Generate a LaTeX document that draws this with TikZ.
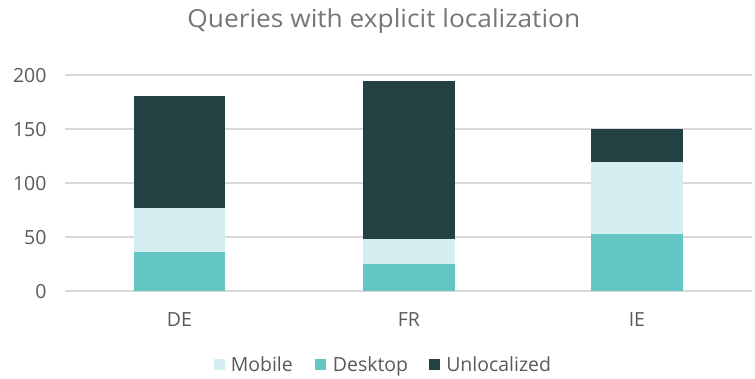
\documentclass[tikz,border=0pt]{standalone}
\usepackage{fontspec}
\setmainfont{Open Sans}
\definecolor{unloc}{HTML}{234142}
\definecolor{desk}{HTML}{63C6C2}
\definecolor{mob}{HTML}{D5EEF1}
\definecolor{gridc}{HTML}{D9D9D9}
\definecolor{txt}{HTML}{595959}
\definecolor{ttl}{HTML}{767676}
\tikzset{
  gridline/.style={draw=gridc, line width=1.5pt},
  lbl/.style={inner sep=0pt, text=txt, font=\fontsize{14.6}{16}\selectfont},
  ttlstyle/.style={inner sep=0pt, text=ttl, font=\fontsize{18.6}{20}\selectfont},
  legsq/.style={inner sep=0pt, minimum width=8.4pt, minimum height=8.4pt},
}
\begin{document}
\begin{tikzpicture}[x=0.75pt,y=-0.75pt]
\useasboundingbox (0,0) rectangle (755,378);
% title
\node[ttlstyle, anchor=base] (title) at (383.8,27.5) {\scalebox{1.06}[1]{Queries with explicit localization}};
% grid and y labels
\foreach \v/\name in {0/ya,50/yb,100/yc,150/yd,200/ye}{
  \draw[gridline] (65,{290.7-1.08*\v}) -- (751.5,{290.7-1.08*\v});
  \node[lbl, anchor=base east] (\name) at (46.7,{290.7-1.08*\v+7.3}) {\v};
}
% bars: center, desktop, desktop+mobile, total
\foreach \c/\d/\m/\t in {179.5/35.6/76.6/180.3, 408.8/24.8/47.5/194, 636.9/52.8/119.4/149.4}{
  \fill[desk] ({\c-45.8},290.7) rectangle ({\c+45.8},{290.7-1.08*\d});
  \fill[mob] ({\c-45.8},{290.7-1.08*\d}) rectangle ({\c+45.8},{290.7-1.08*\m});
  \fill[unloc] ({\c-45.8},{290.7-1.08*\m}) rectangle ({\c+45.8},{290.7-1.08*\t});
}
% category labels
\node[lbl, anchor=base] (de) at (179.5,326.7) {DE};
\node[lbl, anchor=base] (fr) at (408.8,326.7) {FR};
\node[lbl, anchor=base] (ie) at (636.9,326.7) {IE};
% legend
\node[legsq, fill=mob, anchor=north west] (lmob) at (214,358.5) {};
\node[lbl, anchor=base west] (tmob) at (230.5,371.5) {Mobile};
\node[legsq, fill=desk, anchor=north west] (ldesk) at (315,358.5) {};
\node[lbl, anchor=base west] (tdesk) at (332.7,371.5) {Desktop};
\node[legsq, fill=unloc, anchor=north west] (lunloc) at (428.5,358.5) {};
\node[lbl, anchor=base west] (tunloc) at (446,371.5) {Unlocalized};
\end{tikzpicture}
\end{document}
